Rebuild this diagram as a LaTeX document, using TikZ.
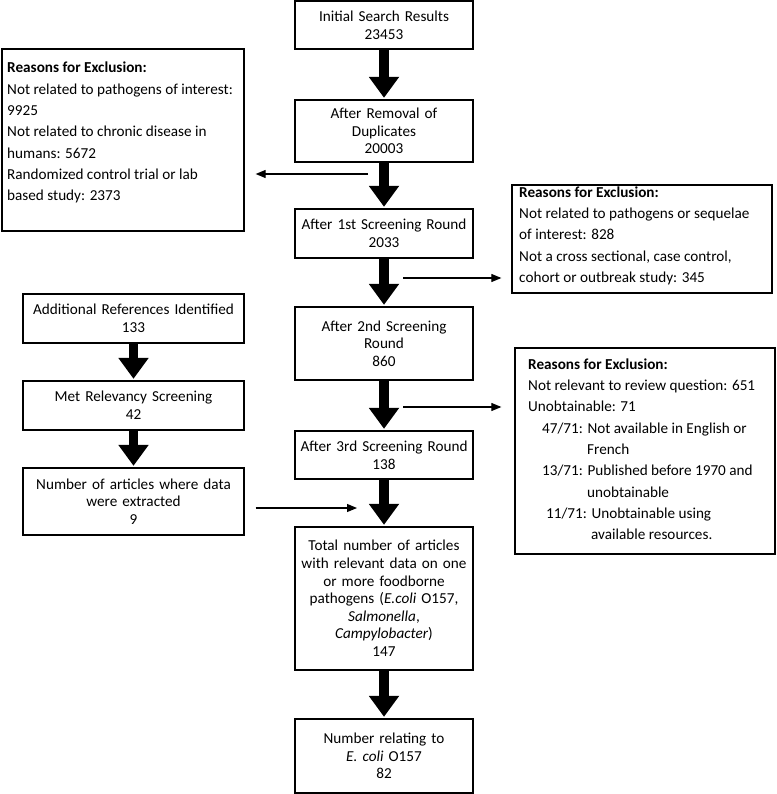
\documentclass[tikz,border=0pt]{standalone}
\usepackage{fontspec}
\setmainfont{Carlito}
\usetikzlibrary{arrows.meta}
\begin{document}
\begin{tikzpicture}[x=1pt,y=-1pt,
  mainbox/.style={draw, line width=1.3pt, inner sep=0pt, align=center,
    minimum width=178pt, text width=172pt,
    font=\fontsize{15.2}{17.6}\selectfont},
  sidebox/.style={draw, line width=1.3pt, inner sep=0pt, align=center,
    minimum width=221pt, text width=215pt,
    font=\fontsize{15.2}{17.6}\selectfont},
  exbox/.style={draw, line width=1.3pt, inner sep=0pt},
  extext/.style={anchor=north west, inner sep=0pt, align=left,
    font=\fontsize{15.2}{21.3}\selectfont},
  bigarrow/.style={line width=9.5pt, -{Triangle[length=21pt,width=29pt]}, shorten >=1.5pt},
  thinarrow/.style={line width=1.1pt, -{Triangle[length=10pt,width=8pt]}}
]
\useasboundingbox (0,0) rectangle (776,794);

% main column
\node[mainbox, minimum height=48pt] (n1) at (384,25) {Initial Search Results\\23453};
\node[mainbox, minimum height=62pt] (n2) at (384,131) {After Removal of\\Duplicates\\20003};
\node[mainbox, minimum height=49pt] (n3) at (384,233.5) {After 1st Screening Round\\2033};
\node[mainbox, minimum height=73pt] (n4) at (384,343.5) {After 2nd Screening\\Round\\860};
\node[mainbox, minimum height=48pt] (n5) at (384,455) {After 3rd Screening Round\\138};
\node[mainbox, minimum height=143pt] (n6) at (384,598.5) {Total number of articles\\with relevant data on one\\or more foodborne\\pathogens (\textit{E.coli} O157,\\\textit{Salmonella},\\\textit{Campylobacter})\\147};
\node[mainbox, minimum height=74pt] (n7) at (384,756) {Number relating to\\\textit{E. coli} O157\\82};

% left column
\node[sidebox, minimum height=49pt] (s1) at (133.5,318.5) {Additional References Identified\\133};
\node[sidebox, minimum height=49pt] (s2) at (133.5,405.5) {Met Relevancy Screening\\42};
\node[sidebox, minimum height=67pt] (s3) at (133.5,501.5) {Number of articles where data\\were extracted\\9};

% exclusion boxes
\node[exbox, minimum width=242pt, minimum height=182pt] (exL) at (123,140) {};
\node[extext] (exLt) at (7,62) {\textbf{Reasons for Exclusion:}\\
Not related to pathogens of interest:\\
9925\\
Not related to chronic disease in\\
humans: 5672\\
Randomized control trial or lab\\
based study: 2373};

\node[exbox, minimum width=260pt, minimum height=108pt] (exR1) at (642,239) {};
\node[extext] (exR1t) at (519,186.5) {\textbf{Reasons for Exclusion:}\\
Not related to pathogens or sequelae\\
of interest: 828\\
Not a cross sectional, case control,\\
cohort or outbreak study: 345};

\node[exbox, minimum width=260pt, minimum height=206pt] (exR2) at (645,451) {};
\node[extext] (exR2t) at (528,358.5) {\textbf{Reasons for Exclusion:}\\
Not relevant to review question: 651\\
Unobtainable: 71\\
\hspace*{14pt}47/71: Not available in English or\\
\hspace*{59pt}French\\
\hspace*{14pt}13/71: Published before 1970 and\\
\hspace*{59pt}unobtainable\\
\hspace*{18pt}11/71: Unobtainable using\\
\hspace*{63pt}available resources.};

% thick arrows
\draw[bigarrow] (n1.south) -- (n2.north);
\draw[bigarrow] (n2.south) -- (n3.north);
\draw[bigarrow] (n3.south) -- (n4.north);
\draw[bigarrow] (n4.south) -- (n5.north);
\draw[bigarrow] (n5.south) -- (n6.north);
\draw[bigarrow] (n6.south) -- (n7.north);
\draw[bigarrow] (s1.south) -- (s2.north);
\draw[bigarrow] (s2.south) -- (s3.north);

% thin arrows
\coordinate (c1) at (368,174);
\coordinate (c2) at (403,278);
\coordinate (c3) at (403,407);
\coordinate (c4) at (357,508);
\draw[thinarrow, shorten >=11pt] (c1) -- (exL.east |- c1);
\draw[thinarrow, shorten >=10pt] (c2) -- (exR1.west |- c2);
\draw[thinarrow, shorten >=13pt] (c3) -- (exR2.west |- c3);
\draw[thinarrow, shorten <=11pt] (s3.east |- c4) -- (c4);
\end{tikzpicture}
\end{document}
